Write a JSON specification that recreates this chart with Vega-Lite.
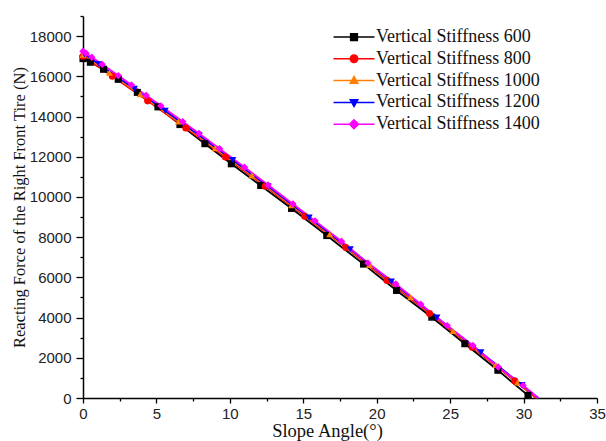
{
  "$schema": "https://vega.github.io/schema/vega-lite/v6.json",
  "width": 514,
  "height": 382,
  "autosize": "none",
  "padding": {"left": 83, "top": 16, "right": 9, "bottom": 43},
  "background": "white",
  "config": {
    "view": {"stroke": null},
    "axis": {
      "domainColor": "#000000",
      "domainWidth": 1.5,
      "tickColor": "#000000",
      "tickWidth": 1.3,
      "grid": false,
      "labelFont": "Liberation Sans",
      "labelFontSize": 15,
      "labelColor": "#222222",
      "titleFont": "Liberation Serif",
      "titleFontWeight": "normal",
      "titleColor": "#111111"
    }
  },
  "data": {
    "values": [
      {"s": "Vertical Stiffness 600", "x": 0, "y": 16880},
      {"s": "Vertical Stiffness 600", "x": 0.5, "y": 16700},
      {"s": "Vertical Stiffness 600", "x": 1.4, "y": 16350},
      {"s": "Vertical Stiffness 600", "x": 2.4, "y": 15850},
      {"s": "Vertical Stiffness 600", "x": 3.7, "y": 15200},
      {"s": "Vertical Stiffness 600", "x": 5.1, "y": 14480},
      {"s": "Vertical Stiffness 600", "x": 6.6, "y": 13600},
      {"s": "Vertical Stiffness 600", "x": 8.3, "y": 12650},
      {"s": "Vertical Stiffness 600", "x": 10.1, "y": 11650},
      {"s": "Vertical Stiffness 600", "x": 12.1, "y": 10570},
      {"s": "Vertical Stiffness 600", "x": 14.2, "y": 9430},
      {"s": "Vertical Stiffness 600", "x": 16.6, "y": 8080},
      {"s": "Vertical Stiffness 600", "x": 19.1, "y": 6660},
      {"s": "Vertical Stiffness 600", "x": 21.35, "y": 5350},
      {"s": "Vertical Stiffness 600", "x": 23.75, "y": 4020},
      {"s": "Vertical Stiffness 600", "x": 26.0, "y": 2700},
      {"s": "Vertical Stiffness 600", "x": 28.25, "y": 1380},
      {"s": "Vertical Stiffness 600", "x": 30.3, "y": 130},
      {"s": "Vertical Stiffness 600", "x": 30.55, "y": 0},

      {"s": "Vertical Stiffness 800", "x": 0, "y": 17000},
      {"s": "Vertical Stiffness 800", "x": 2.0, "y": 16002},
      {"s": "Vertical Stiffness 800", "x": 4.4, "y": 14779},
      {"s": "Vertical Stiffness 800", "x": 7.0, "y": 13426},
      {"s": "Vertical Stiffness 800", "x": 9.7, "y": 11990},
      {"s": "Vertical Stiffness 800", "x": 12.4, "y": 10528},
      {"s": "Vertical Stiffness 800", "x": 15.1, "y": 9044},
      {"s": "Vertical Stiffness 800", "x": 17.9, "y": 7482},
      {"s": "Vertical Stiffness 800", "x": 20.7, "y": 5850},
      {"s": "Vertical Stiffness 800", "x": 23.6, "y": 4200},
      {"s": "Vertical Stiffness 800", "x": 26.5, "y": 2520},
      {"s": "Vertical Stiffness 800", "x": 29.4, "y": 850},
      {"s": "Vertical Stiffness 800", "x": 30.85, "y": 0},

      {"s": "Vertical Stiffness 1000", "x": 0, "y": 17080},
      {"s": "Vertical Stiffness 1000", "x": 1.8, "y": 16178},
      {"s": "Vertical Stiffness 1000", "x": 3.9, "y": 15108},
      {"s": "Vertical Stiffness 1000", "x": 6.5, "y": 13755},
      {"s": "Vertical Stiffness 1000", "x": 9.0, "y": 12427},
      {"s": "Vertical Stiffness 1000", "x": 11.5, "y": 11076},
      {"s": "Vertical Stiffness 1000", "x": 14.2, "y": 9593},
      {"s": "Vertical Stiffness 1000", "x": 16.8, "y": 8144},
      {"s": "Vertical Stiffness 1000", "x": 19.5, "y": 6622},
      {"s": "Vertical Stiffness 1000", "x": 22.3, "y": 5010},
      {"s": "Vertical Stiffness 1000", "x": 25.2, "y": 3330},
      {"s": "Vertical Stiffness 1000", "x": 28.1, "y": 1640},
      {"s": "Vertical Stiffness 1000", "x": 29.6, "y": 780},
      {"s": "Vertical Stiffness 1000", "x": 30.95, "y": 0},

      {"s": "Vertical Stiffness 1200", "x": 0.1, "y": 17100},
      {"s": "Vertical Stiffness 1200", "x": 1.1, "y": 16600},
      {"s": "Vertical Stiffness 1200", "x": 3.5, "y": 15379},
      {"s": "Vertical Stiffness 1200", "x": 5.6, "y": 14288},
      {"s": "Vertical Stiffness 1200", "x": 7.9, "y": 13073},
      {"s": "Vertical Stiffness 1200", "x": 10.2, "y": 11835},
      {"s": "Vertical Stiffness 1200", "x": 12.6, "y": 10525},
      {"s": "Vertical Stiffness 1200", "x": 15.4, "y": 8973},
      {"s": "Vertical Stiffness 1200", "x": 18.2, "y": 7399},
      {"s": "Vertical Stiffness 1200", "x": 21.0, "y": 5790},
      {"s": "Vertical Stiffness 1200", "x": 24.1, "y": 4000},
      {"s": "Vertical Stiffness 1200", "x": 27.1, "y": 2270},
      {"s": "Vertical Stiffness 1200", "x": 29.9, "y": 640},
      {"s": "Vertical Stiffness 1200", "x": 31.0, "y": 0},

      {"s": "Vertical Stiffness 1400", "x": 0, "y": 17250},
      {"s": "Vertical Stiffness 1400", "x": 0.2, "y": 17150},
      {"s": "Vertical Stiffness 1400", "x": 0.6, "y": 16948},
      {"s": "Vertical Stiffness 1400", "x": 1.3, "y": 16595},
      {"s": "Vertical Stiffness 1400", "x": 2.4, "y": 16036},
      {"s": "Vertical Stiffness 1400", "x": 3.3, "y": 15573},
      {"s": "Vertical Stiffness 1400", "x": 4.3, "y": 15054},
      {"s": "Vertical Stiffness 1400", "x": 5.3, "y": 14531},
      {"s": "Vertical Stiffness 1400", "x": 6.8, "y": 13740},
      {"s": "Vertical Stiffness 1400", "x": 7.9, "y": 13154},
      {"s": "Vertical Stiffness 1400", "x": 9.3, "y": 12398},
      {"s": "Vertical Stiffness 1400", "x": 11.0, "y": 11474},
      {"s": "Vertical Stiffness 1400", "x": 12.6, "y": 10593},
      {"s": "Vertical Stiffness 1400", "x": 14.3, "y": 9649},
      {"s": "Vertical Stiffness 1400", "x": 15.8, "y": 8810},
      {"s": "Vertical Stiffness 1400", "x": 17.6, "y": 7794},
      {"s": "Vertical Stiffness 1400", "x": 19.4, "y": 6720},
      {"s": "Vertical Stiffness 1400", "x": 21.3, "y": 5670},
      {"s": "Vertical Stiffness 1400", "x": 23.0, "y": 4660},
      {"s": "Vertical Stiffness 1400", "x": 24.8, "y": 3600},
      {"s": "Vertical Stiffness 1400", "x": 26.55, "y": 2610},
      {"s": "Vertical Stiffness 1400", "x": 28.27, "y": 1540},
      {"s": "Vertical Stiffness 1400", "x": 29.97, "y": 620},
      {"s": "Vertical Stiffness 1400", "x": 31.0, "y": 0}
    ]
  },
  "encoding": {
    "x": {
      "field": "x",
      "type": "quantitative",
      "scale": {"domain": [0, 35], "nice": false, "zero": false},
      "axis": {
        "title": "Slope Angle(°)",
        "titleFontSize": 18.5,
        "values": [0, 2.5, 5, 7.5, 10, 12.5, 15, 17.5, 20, 22.5, 25, 27.5, 30, 32.5, 35],
        "format": "~g",
        "labelExpr": "datum.value % 5 == 0 ? datum.label : ''",
        "tickSize": {"condition": {"test": "datum.value % 5 == 0", "value": 5}, "value": 3},
        "labelPadding": 3,
        "labelFlush": false,
        "labelOverlap": false,
        "titleX": 244,
        "titleY": 38,
        "titleAlign": "center",
        "titleBaseline": "alphabetic",
        "titleAnchor": null
      }
    },
    "y": {
      "field": "y",
      "type": "quantitative",
      "scale": {"domain": [0, 19000], "nice": false},
      "axis": {
        "title": "Reacting Force of the Right Front Tire (N)",
        "titleFontSize": 16.5,
        "values": [0, 1000, 2000, 3000, 4000, 5000, 6000, 7000, 8000, 9000, 10000, 11000, 12000, 13000, 14000, 15000, 16000, 17000, 18000, 19000],
        "format": "d",
        "labelExpr": "datum.value % 2000 == 0 ? datum.label : ''",
        "tickSize": {"condition": {"test": "datum.value % 2000 == 0", "value": 7}, "value": 3},
        "labelPadding": 5,
        "labelFlush": false,
        "labelOverlap": false,
        "titleX": -64,
        "titleY": 191,
        "titleAngle": -90,
        "titleAlign": "center",
        "titleBaseline": "middle",
        "titleAnchor": null
      }
    }
  },
  "layer": [
    {
      "mark": {"type": "line", "strokeWidth": 1.8},
      "encoding": {
        "color": {
          "field": "s",
          "type": "nominal",
          "scale": {
            "domain": ["Vertical Stiffness 600", "Vertical Stiffness 800", "Vertical Stiffness 1000", "Vertical Stiffness 1200", "Vertical Stiffness 1400"],
            "range": ["#000000", "#ff0000", "#ff8000", "#0000ff", "#ff00ff"]
          },
          "legend": {
            "title": null,
            "orient": "none",
            "legendX": 262,
            "legendY": 12,
            "padding": 0,
            "symbolSize": 225,
            "symbolStrokeWidth": 1.5,
            "labelFont": "Liberation Serif",
            "labelFontSize": 18,
            "labelColor": "#111111",
            "labelOffset": 13,
            "rowPadding": 3.8,
            "labelLimit": 300,
            "encoding": {
              "symbols": {
                "shape": {
                  "condition": [
                    {"test": "datum.index == 0", "value": "M-2.73,0H2.73M-0.45,-0.45H0.45V0.45H-0.45Z"},
                    {"test": "datum.index == 1", "value": "M-2.73,0H2.73M0.5,0A0.5,0.5,0,1,1,-0.5,0A0.5,0.5,0,1,1,0.5,0Z"},
                    {"test": "datum.index == 2", "value": "M-2.73,0H2.73M0,-0.55L0.5,0.35H-0.5Z"},
                    {"test": "datum.index == 3", "value": "M-2.73,0H2.73M0,0.55L0.5,-0.35H-0.5Z"}
                  ],
                  "value": "M-2.73,0H2.73M0,-0.6L0.6,0L0,0.6L-0.6,0Z"
                },
                "fill": {
                  "condition": [
                    {"test": "datum.index == 0", "value": "#000000"},
                    {"test": "datum.index == 1", "value": "#ff0000"},
                    {"test": "datum.index == 2", "value": "#ff8000"},
                    {"test": "datum.index == 3", "value": "#0000ff"}
                  ],
                  "value": "#ff00ff"
                },
                "strokeWidth": {"value": 1.5},
                "opacity": {"value": 1}
              }
            }
          }
        }
      }
    },
    {
      "transform": [{"filter": "datum.y > 0 && datum.s == 'Vertical Stiffness 600'"}],
      "mark": {"type": "point", "filled": true, "size": 50, "opacity": 1, "shape": "square", "color": "#000000"}
    },
    {
      "transform": [{"filter": "datum.y > 0 && datum.s == 'Vertical Stiffness 800'"}],
      "mark": {"type": "point", "filled": true, "size": 50, "opacity": 1, "shape": "circle", "color": "#ff0000"}
    },
    {
      "transform": [{"filter": "datum.y > 0 && datum.s == 'Vertical Stiffness 1000'"}],
      "mark": {"type": "point", "filled": true, "size": 50, "opacity": 1, "shape": "triangle-up", "color": "#ff8000"}
    },
    {
      "transform": [{"filter": "datum.y > 0 && datum.s == 'Vertical Stiffness 1200'"}],
      "mark": {"type": "point", "filled": true, "size": 50, "opacity": 1, "shape": "triangle-down", "color": "#0000ff"}
    },
    {
      "transform": [{"filter": "datum.y > 0 && datum.s == 'Vertical Stiffness 1400'"}],
      "mark": {"type": "point", "filled": true, "size": 55, "opacity": 1, "shape": "diamond", "color": "#ff00ff"}
    }
  ]
}
